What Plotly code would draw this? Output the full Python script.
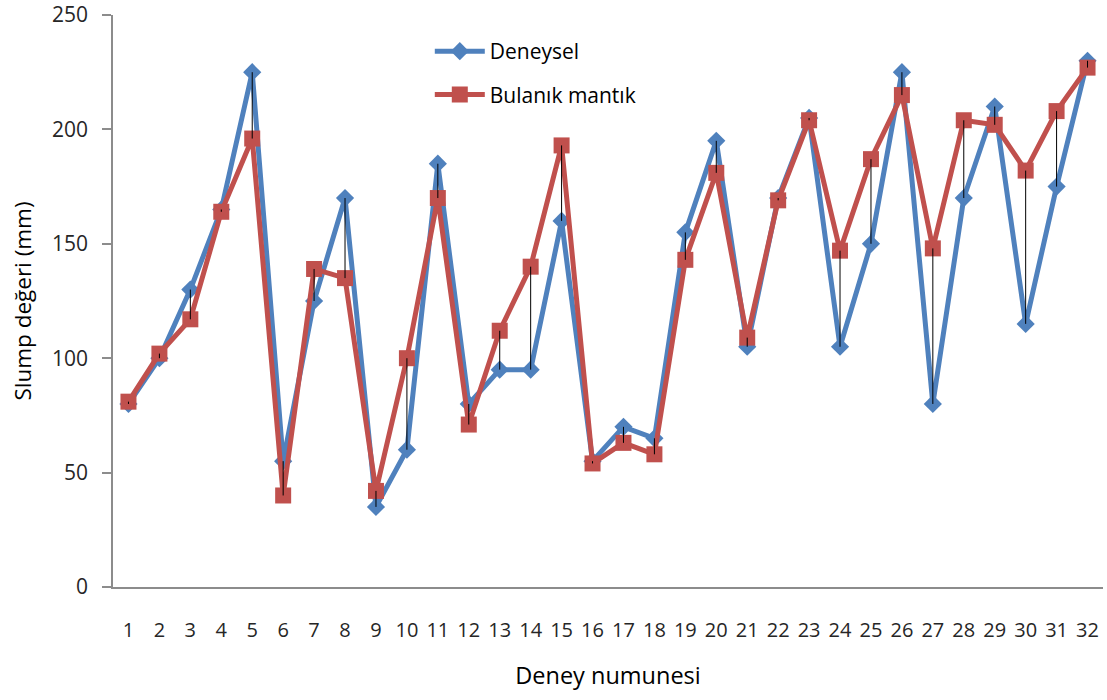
import plotly.graph_objects as go

# Sample numbers 1..32
numune = list(range(1, 33))

# Measured slump values (mm)
deneysel = [80, 100, 130, 165, 225, 55, 125, 170, 35, 60,
            185, 80, 95, 95, 160, 55, 70, 65, 155, 195,
            105, 170, 205, 105, 150, 225, 80, 170, 210, 115,
            175, 230]

# Fuzzy-logic predicted slump values (mm)
bulanik = [81, 102, 117, 164, 196, 40, 139, 135, 42, 100,
           170, 71, 112, 140, 193, 54, 63, 58, 143, 181,
           109, 169, 204, 147, 187, 215, 148, 204, 202, 182,
           208, 227]

y_ticks = [0, 50, 100, 150, 200, 250]

BLUE = "#4F81BD"
RED = "#C0504D"
FONT = "'Open Sans', 'Noto Sans', sans-serif"

# High-low connector segments between the two series at each sample
hl_x, hl_y = [], []
for n, a, b in zip(numune, deneysel, bulanik):
    hl_x += [n, n, None]
    hl_y += [a, b, None]

fig = go.Figure()
fig.add_trace(go.Scatter(
    x=numune, y=deneysel, name="Deneysel", mode="lines+markers",
    line=dict(color=BLUE, width=5),
    marker=dict(symbol="diamond", size=14, color=BLUE),
    legendgroup="a",
))
fig.add_trace(go.Scatter(
    x=numune, y=bulanik, name="Bulanık mantık", mode="lines+markers",
    line=dict(color=RED, width=5),
    marker=dict(symbol="square", size=16, color=RED),
    legendgroup="b",
))
fig.add_trace(go.Scatter(
    x=hl_x, y=hl_y, mode="lines", showlegend=False, hoverinfo="skip",
    line=dict(color="black", width=1),
))

fig.update_layout(
    width=1107, height=700,
    margin=dict(l=113, r=4, t=15, b=113),
    paper_bgcolor="white", plot_bgcolor="white",
    font=dict(family=FONT, size=20, color="#262626"),
    showlegend=True,
    legend=dict(
        x=0.32, y=0.972, xanchor="left", yanchor="top",
        bgcolor="rgba(0,0,0,0)", font=dict(size=21, color="black"),
        traceorder="grouped", tracegroupgap=13, itemwidth=50,
    ),
    xaxis=dict(
        range=[0.5, 32.5], tickmode="array", tickvals=numune,
        ticktext=[str(n) for n in numune],
        showgrid=False, zeroline=False, automargin=False,
        showline=True, linecolor="#8C8C8C", linewidth=1.5,
        ticks="", ticklabelstandoff=24,
        tickfont=dict(size=20),
        title=dict(text="Deney numunesi", font=dict(size=23.5, color="black"), standoff=26),
    ),
    yaxis=dict(
        range=[0, 250], tickmode="array", tickvals=y_ticks,
        showgrid=False, zeroline=False, automargin=False,
        showline=True, linecolor="#8C8C8C", linewidth=1.5,
        ticks="outside", ticklen=9, tickcolor="#8C8C8C", tickwidth=1.5,
        ticklabelstandoff=10,
        tickfont=dict(size=21),
        title=dict(text="Slump değeri (mm)", font=dict(size=22.5, color="black"), standoff=14),
    ),
)

fig.write_html("out.html")
